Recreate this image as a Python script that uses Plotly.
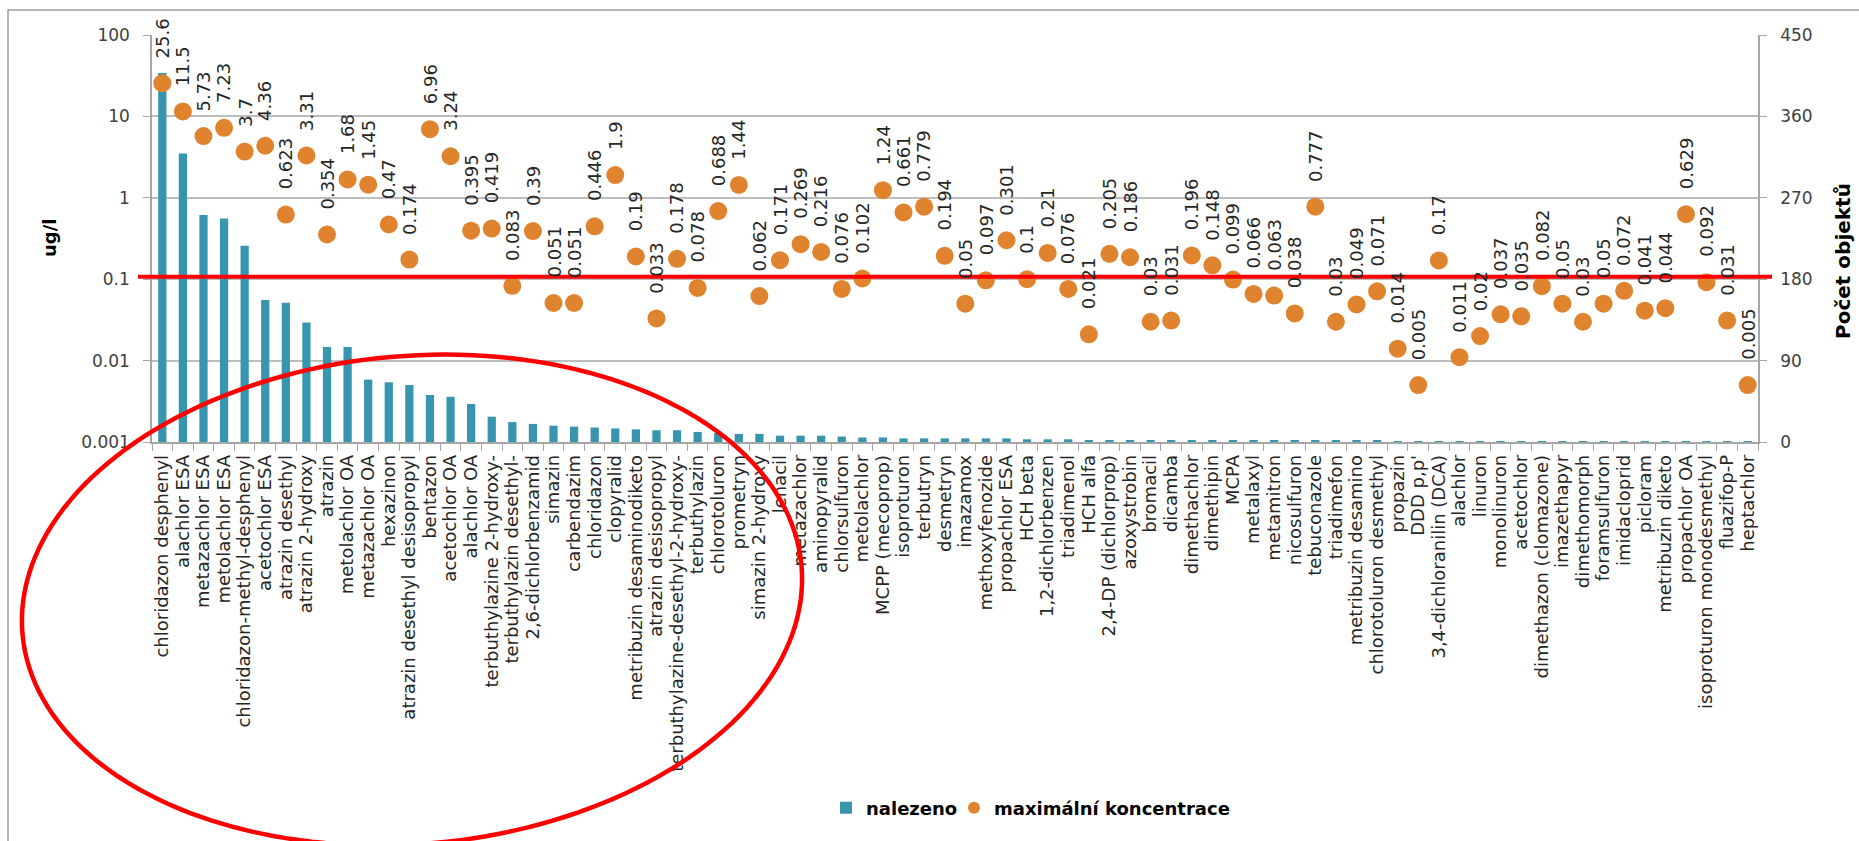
import math
import plotly.graph_objects as go

# Pesticide metabolites / active substances
categories = [
    "chloridazon desphenyl", "alachlor ESA", "metazachlor ESA", "metolachlor ESA",
    "chloridazon-methyl-desphenyl", "acetochlor ESA", "atrazin desethyl", "atrazin 2-hydroxy",
    "atrazin", "metolachlor OA", "metazachlor OA", "hexazinon",
    "atrazin desethyl desisopropyl", "bentazon", "acetochlor OA", "alachlor OA",
    "terbuthylazine 2-hydroxy-", "terbuthylazin desethyl-", "2,6-dichlorbenzamid", "simazin",
    "carbendazim", "chloridazon", "clopyralid", "metribuzin desaminodiketo",
    "atrazin desisopropyl", "terbuthylazine-desethyl-2-hydroxy-", "terbuthylazin", "chlorotoluron",
    "prometryn", "simazin 2-hydroxy", "lenacil", "metazachlor",
    "aminopyralid", "chlorsulfuron", "metolachlor", "MCPP (mecoprop)",
    "isoproturon", "terbutryn", "desmetryn", "imazamox",
    "methoxyfenozide", "propachlor ESA", "HCH beta", "1,2-dichlorbenzen",
    "triadimenol", "HCH alfa", "2,4-DP (dichlorprop)", "azoxystrobin",
    "bromacil", "dicamba", "dimethachlor", "dimethipin",
    "MCPA", "metalaxyl", "metamitron", "nicosulfuron",
    "tebuconazole", "triadimefon", "metribuzin desamino", "chlorotoluron desmethyl",
    "propazin", "DDD p,p'", "3,4-dichloranilin (DCA)", "alachlor",
    "linuron", "monolinuron", "acetochlor", "dimethazon (clomazone)",
    "imazethapyr", "dimethomorph", "foramsulfuron", "imidacloprid",
    "picloram", "metribuzin diketo", "propachlor OA", "isoproturon monodesmethyl",
    "fluazifop-P", "heptachlor",
]

# Number of sampled objects where the substance was found (right axis)
found_counts = [
    408, 319, 251, 247, 217, 157, 154, 132, 105, 105,
    69, 66, 63, 52, 50, 42, 28, 22, 20, 18,
    17, 16, 15, 14, 13, 13, 11, 10, 9, 9,
    7, 7, 7, 6, 5, 5, 4, 4, 4, 4,
    4, 4, 3, 3, 3, 2, 2, 2, 2, 2,
    2, 2, 2, 2, 2, 2, 2, 2, 2, 2,
    1, 1, 1, 1, 1, 1, 1, 1, 1, 1,
    1, 1, 1, 1, 1, 1, 1, 1,
]

# Maximum concentration in ug/l (left, logarithmic axis)
max_concentration = [
    25.6, 11.5, 5.73, 7.23, 3.7, 4.36, 0.623, 3.31,
    0.354, 1.68, 1.45, 0.47, 0.174, 6.96, 3.24, 0.395,
    0.419, 0.083, 0.39, 0.051, 0.051, 0.446, 1.9, 0.19,
    0.033, 0.178, 0.078, 0.688, 1.44, 0.062, 0.171, 0.269,
    0.216, 0.076, 0.102, 1.24, 0.661, 0.779, 0.194, 0.05,
    0.097, 0.301, 0.1, 0.21, 0.076, 0.021, 0.205, 0.186,
    0.03, 0.031, 0.196, 0.148, 0.099, 0.066, 0.063, 0.038,
    0.777, 0.03, 0.049, 0.071, 0.014, 0.005, 0.17, 0.011,
    0.02, 0.037, 0.035, 0.082, 0.05, 0.03, 0.05, 0.072,
    0.041, 0.044, 0.629, 0.092, 0.031, 0.005,
]

log_ticks = [0.001, 0.01, 0.1, 1, 10, 100]
log_tick_text = ["0.001", "0.01", "0.1", "1", "10", "100"]
count_ticks = [0, 90, 180, 270, 360, 450]
limit_value = 0.107  # drinking-water limit line (0.1 ug/l)

FONT = "DejaVu Sans"
BAR_COLOR = "#3795AE"
DOT_COLOR = "#E0832F"
GRID = "#BDBDBD"
AXIS = "#A6A6A6"

W, H = 1859, 841
L, R, T, B = 152, 101, 35, 399
plot_w = W - L - R
plot_h = H - T - B


def px_to_paper(px, py):
    return (px - L) / plot_w, (H - B - py) / plot_h


fig = go.Figure()

fig.add_trace(go.Bar(
    x=categories, y=found_counts, name="<b>nalezeno</b>",
    marker=dict(color=BAR_COLOR, line=dict(width=0)),
    yaxis="y", legend="legend",
))

fig.add_trace(go.Scatter(
    x=categories, y=max_concentration, name="<b>maximální koncentrace</b>",
    mode="markers", marker=dict(color=DOT_COLOR, size=18, line=dict(width=0)),
    yaxis="y2", legend="legend2",
))

# rotated value labels above the dots
annotations = []
for cat, val in zip(categories, max_concentration):
    annotations.append(dict(
        x=cat, y=math.log10(val), xref="x", yref="y2",
        text=str(val), textangle=-90, showarrow=False,
        xanchor="center", yanchor="bottom", yshift=23,
        font=dict(family=FONT, size=18, color="#262626"),
    ))

# axis titles
lx, ly = px_to_paper(50, 238)
annotations.append(dict(
    x=lx, y=ly, xref="paper", yref="paper", text="<b>ug/l</b>", textangle=-90,
    showarrow=False, xanchor="center", yanchor="middle",
    font=dict(family=FONT, size=18, color="#000000"),
))
rx, ry = px_to_paper(1843, 261)
annotations.append(dict(
    x=rx, y=ry, xref="paper", yref="paper", text="<b>Počet objektů</b>", textangle=-90,
    showarrow=False, xanchor="center", yanchor="middle",
    font=dict(family=FONT, size=20, color="#000000"),
))

shapes = []
# outer chart frame
fx0, fy0 = px_to_paper(8, 10)
fx1, fy1 = px_to_paper(1875, 860)
shapes.append(dict(type="rect", xref="paper", yref="paper", x0=fx0, y0=fy1, x1=fx1, y1=fy0,
                   line=dict(color="#9E9E9E", width=1.5), layer="below"))

# red limit line
lx0, _ = px_to_paper(138, 0)
lx1, _ = px_to_paper(1772, 0)
shapes.append(dict(type="line", xref="paper", yref="y2", x0=lx0, x1=lx1,
                   y0=limit_value, y1=limit_value,
                   line=dict(color="#FF0000", width=4), layer="above"))

# tilted red ellipse around the low-frequency group
cx, cy, a_ax, b_ax, ang = 412, 600, 391, 244, math.radians(5)
pts = []
for i in range(181):
    t = 2 * math.pi * i / 180
    X = cx + a_ax * math.cos(t) * math.cos(ang) + b_ax * math.sin(t) * math.sin(ang)
    Y = cy - a_ax * math.cos(t) * math.sin(ang) + b_ax * math.sin(t) * math.cos(ang)
    px_, py_ = px_to_paper(X, Y)
    pts.append(f"{px_:.5f},{py_:.5f}")
path = "M " + " L ".join(pts) + " Z"
shapes.append(dict(type="path", xref="paper", yref="paper", path=path,
                   line=dict(color="#FF0000", width=4.5), layer="above"))

leg1_x, leg_y = px_to_paper(826, 808)
leg2_x, _ = px_to_paper(954, 808)
legend_common = dict(orientation="h", y=leg_y, xanchor="left", yanchor="middle",
                     font=dict(family=FONT, size=18, color="#000000"),
                     itemsizing="constant", itemwidth=30, bgcolor="rgba(0,0,0,0)")

fig.update_layout(
    template="none",
    width=W, height=H, autosize=False,
    margin=dict(l=L, r=R, t=T, b=B, pad=0),
    paper_bgcolor="white", plot_bgcolor="white",
    font=dict(family=FONT, color="#404040"),
    bargap=0.6,
    showlegend=True,
    legend=dict(x=leg1_x, **legend_common),
    legend2=dict(x=leg2_x, **legend_common),
    xaxis=dict(
        type="category", categoryorder="array", categoryarray=categories,
        range=[-0.5, len(categories) - 0.5],
        tickmode="array", tickvals=categories, ticktext=categories,
        tickangle=-90, tickson="boundaries", ticks="outside", ticklen=7,
        tickcolor=AXIS, tickwidth=1.2,
        showline=True, linecolor=AXIS, linewidth=1.5, showgrid=False,
        tickfont=dict(family=FONT, size=18, color="#262626"),
        automargin=False, ticklabelstandoff=4,
    ),
    yaxis=dict(
        side="right", range=[0, 450], tickvals=count_ticks,
        showgrid=True, gridcolor=GRID, gridwidth=1.5, zeroline=False,
        showline=True, linecolor=AXIS, linewidth=1.5,
        ticks="outside", ticklen=7, tickcolor=AXIS,
        tickfont=dict(family=FONT, size=17, color="#404040"),
        automargin=False, ticklabelstandoff=10,
    ),
    yaxis2=dict(
        overlaying="y", side="left", type="log", range=[-3, 2],
        tickvals=log_ticks, ticktext=log_tick_text,
        showgrid=False, zeroline=False,
        showline=True, linecolor=AXIS, linewidth=1.5,
        ticks="outside", ticklen=7, tickcolor=AXIS,
        tickfont=dict(family=FONT, size=17, color="#404040"),
        automargin=False, ticklabelstandoff=10,
    ),
    annotations=annotations,
    shapes=shapes,
)

fig.write_html("out.html")
